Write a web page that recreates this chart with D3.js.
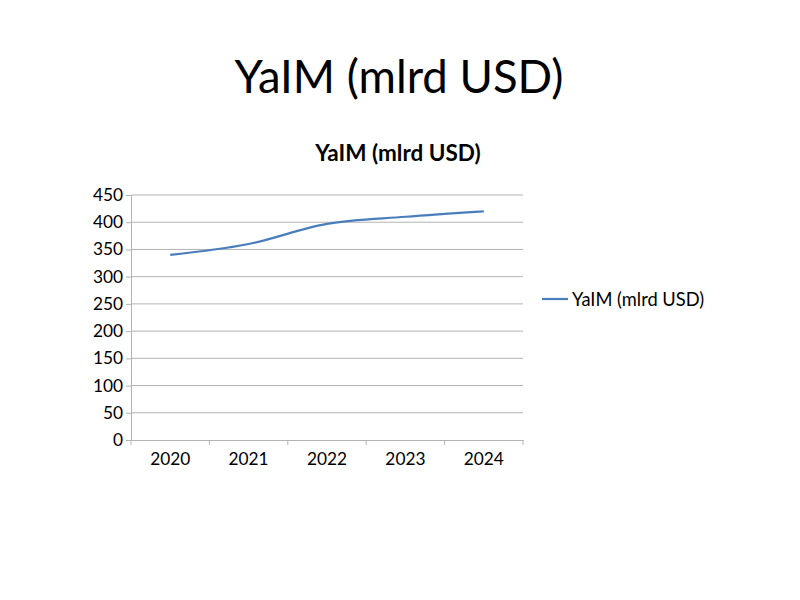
<!DOCTYPE html>
<html><head><meta charset="utf-8">
<script src="https://cdn.jsdelivr.net/npm/d3@7"></script>
<style>body{margin:0;background:#fff}svg{display:block}text{font-family:Lato,"Open Sans",sans-serif}</style>
</head><body>
<svg id="c" width="800" height="600"></svg>
<script>
const years = ["2020","2021","2022","2023","2024"];
const values = [340, 360, 397, 410, 420];
const yTicks = [0,50,100,150,200,250,300,350,400,450];
const seriesName = "YaIM (mlrd USD)";
const pageTitle = "YaIM (mlrd USD)";

const svg = d3.select("#c");
const L=131, R=523, T=195, B=440;
const x = d3.scaleBand().domain(years).range([L,R]);
const y = d3.scaleLinear().domain([0,450]).range([B,T]);

svg.append("text").attr("x",399).attr("y",93).attr("text-anchor","middle")
  .attr("font-size",45.5).attr("fill","#000").text(pageTitle);
svg.append("text").attr("x",398).attr("y",161).attr("text-anchor","middle")
  .attr("font-size",22.5).attr("font-weight","bold").attr("fill","#000").text(seriesName);

// gridlines
svg.append("g").selectAll("line").data(yTicks.filter(d=>d>0)).join("line")
  .attr("x1",L).attr("x2",R).attr("y1",d=>y(d)).attr("y2",d=>y(d))
  .attr("stroke","#b3b3b3").attr("stroke-width",1);

const ya = svg.append("g").attr("transform",`translate(${L},0)`)
  .call(d3.axisLeft(y).tickValues(yTicks).tickSize(5).tickPadding(3));
ya.select(".domain").attr("stroke","#b3b3b3");
ya.selectAll(".tick line").attr("stroke","#b3b3b3");
ya.selectAll("text").attr("font-size",17.3).attr("fill","#000").attr("font-family","Lato");

const xa = svg.append("g").attr("transform",`translate(0,${B})`)
  .call(d3.axisBottom(x).tickSize(0).tickPadding(13));
xa.select(".domain").attr("stroke","#b3b3b3");
xa.selectAll("text").attr("font-size",17.3).attr("fill","#000").attr("font-family","Lato");
// band boundary ticks
svg.append("g").selectAll("line").data(years.concat(["end"])).join("line")
  .attr("x1",(d,i)=> i<years.length ? x(d) : x(years[years.length-1])+x.bandwidth())
  .attr("x2",(d,i)=> i<years.length ? x(d) : x(years[years.length-1])+x.bandwidth())
  .attr("y1",B).attr("y2",B+5).attr("stroke","#b3b3b3");

const line = d3.line().x((d,i)=>x(years[i])+x.bandwidth()/2).y(d=>y(d)).curve(d3.curveMonotoneX);
svg.append("path").datum(values).attr("d",line).attr("fill","none")
  .attr("stroke","#4a7ebb").attr("stroke-width",2.2);

// legend
svg.append("line").attr("x1",542).attr("x2",568).attr("y1",299).attr("y2",299)
  .attr("stroke","#4a7ebb").attr("stroke-width",2.2);
svg.append("text").attr("x",572).attr("y",305.5).attr("font-size",18.3).attr("fill","#000").text(seriesName);
</script>
</body></html>
